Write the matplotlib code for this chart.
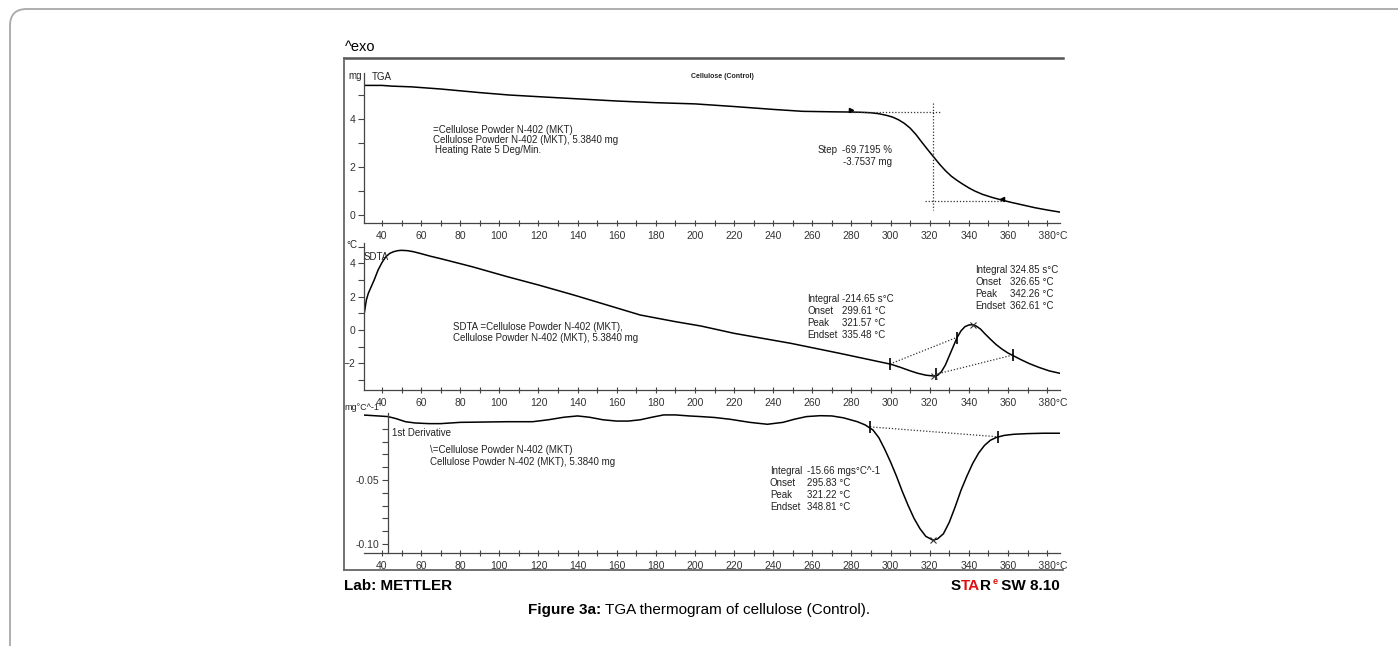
import matplotlib
matplotlib.use('Agg')
import matplotlib.pyplot as plt
from matplotlib.patches import FancyBboxPatch
from matplotlib.lines import Line2D
from matplotlib.ticker import FixedLocator, MultipleLocator

W, H = 1398, 646
NARROW = ['Liberation Sans Narrow', 'Liberation Sans', 'DejaVu Sans']
plt.rcParams['font.family'] = ['Liberation Sans', 'DejaVu Sans']

# x axis, deg C
x_ticks = list(range(40, 381, 20))
x_labels = [str(t) for t in x_ticks[:-1]] + ['    380°C']

# TGA, mg
tga_temp = [31, 40, 45, 55, 70, 90, 105, 120, 140, 160, 180, 200, 220, 240, 255, 270, 280,
            285, 290, 294, 298, 301, 304, 307, 310, 313, 316, 319, 322, 325, 328, 331, 334,
            337, 340, 343, 347, 352, 357, 362, 368, 374, 380, 386.6]
tga_mass = [5.40, 5.40, 5.37, 5.34, 5.25, 5.10, 5.00, 4.93, 4.84, 4.75, 4.68, 4.63, 4.52, 4.40,
            4.32, 4.30, 4.29, 4.28, 4.26, 4.22, 4.15, 4.08, 3.97, 3.82, 3.62, 3.35, 3.03, 2.72,
            2.42, 2.12, 1.85, 1.62, 1.44, 1.28, 1.13, 1.00, 0.86, 0.73, 0.62, 0.52, 0.41, 0.30,
            0.21, 0.12]
tga_step_upper = ([280, 325], [4.29, 4.29])
tga_step_vert = ([321.7, 321.7], [4.67, 0.21])
tga_step_lower = ([317.6, 357], [0.60, 0.60])

# SDTA, deg C
sdta_temp = [30.8, 31.2, 32, 33, 34.5, 36, 38, 40, 42, 44, 46, 48, 50, 53, 56, 60, 65, 70, 86,
             104, 120, 138, 155, 172, 190, 203, 220, 249, 274, 290, 300, 305, 310, 314, 318,
             322, 324, 326, 328, 330, 332, 334, 336, 338, 340, 342, 344, 346, 348, 351, 354,
             357, 360, 363, 367, 371, 376, 381, 386.6]
sdta_val = [0.9, 1.2, 1.8, 2.2, 2.6, 3.0, 3.6, 4.05, 4.4, 4.6, 4.7, 4.76, 4.78, 4.76, 4.70,
            4.58, 4.42, 4.28, 3.8, 3.2, 2.7, 2.1, 1.5, 0.9, 0.5, 0.24, -0.2, -0.8, -1.4, -1.8,
            -2.05, -2.24, -2.45, -2.6, -2.71, -2.76, -2.72, -2.5, -2.1, -1.55, -1.0, -0.45,
            -0.05, 0.2, 0.3, 0.32, 0.22, 0.05, -0.2, -0.55, -0.88, -1.15, -1.38, -1.56, -1.8,
            -2.02, -2.25, -2.45, -2.6]
sdta_base1 = ([299.7, 333.7], [-2.04, -0.45])
sdta_base2 = ([323, 362.6], [-2.66, -1.5])
sdta_limits = ([299.7, 323, 333.7, 362.6], [-2.04, -2.66, -0.45, -1.5])
sdta_peaks = ([322, 342.3], [-2.76, 0.32])

# 1st derivative, mg/deg C
dtg_temp = [29.6, 36, 43, 47, 52, 57, 64, 70, 80, 90, 104, 110, 117, 125, 133, 140, 146, 153,
            160, 166, 172, 178, 184, 190, 197, 203, 210, 218, 228, 237, 245, 251, 257, 264,
            270, 276, 283, 287, 291, 294, 297, 300, 303, 306, 309, 312, 315, 318, 321.7, 324,
            327, 330, 333, 336, 339, 342, 345, 348, 351, 354, 358, 363, 370, 378, 386.6]
dtg_val = [0.0008, 0.0002, -0.0005, -0.002, -0.0045, -0.0055, -0.006, -0.006, -0.005, -0.0048,
           -0.0045, -0.0045, -0.0045, -0.003, -0.001, 0.0, -0.001, -0.003, -0.004, -0.004,
           -0.003, -0.001, 0.0008, 0.0008, 0.0, -0.0005, -0.0012, -0.0026, -0.005, -0.0065,
           -0.005, -0.0025, -0.0005, 0.0002, 0.0, -0.0015, -0.0045, -0.007, -0.011, -0.017,
           -0.026, -0.036, -0.047, -0.059, -0.070, -0.080, -0.088, -0.094, -0.097, -0.096,
           -0.092, -0.083, -0.071, -0.058, -0.047, -0.037, -0.029, -0.023, -0.019, -0.0168,
           -0.0152, -0.0143, -0.0138, -0.0135, -0.0135]
dtg_base = ([289.5, 355], [-0.0085, -0.0163])
dtg_peak = ([321.7], [-0.097])

fig = plt.figure(figsize=(W / 100, H / 100), dpi=100)


def box(left, top, right, bottom):
    return [left / W, 1 - bottom / H, (right - left) / W, (bottom - top) / H]


def ftext(x, y, s, **kw):
    kw.setdefault('family', NARROW)
    kw.setdefault('fontsize', 7)
    kw.setdefault('color', '#222222')
    kw.setdefault('va', 'center')
    return fig.text(x / W, 1 - y / H, s, **kw)


def style(ax, ylim):
    ax.set_facecolor('none')
    ax.set_xlim(30.8, 386.6)
    ax.set_ylim(*ylim)
    for s in ['top', 'right']:
        ax.spines[s].set_visible(False)
    for s in ['left', 'bottom']:
        ax.spines[s].set_color('#444444')
        ax.spines[s].set_linewidth(0.9)
    ax.xaxis.set_major_locator(FixedLocator(x_ticks))
    ax.set_xticklabels(x_labels)
    ax.xaxis.set_minor_locator(MultipleLocator(10))
    ax.tick_params(axis='x', which='both', direction='inout', length=5, width=0.8,
                   colors='#444444', labelcolor='#333333', labelsize=7.5, pad=3)
    ax.tick_params(axis='y', which='both', direction='out', length=4, width=0.8,
                   colors='#444444', labelcolor='#333333', labelsize=7.5, pad=2)
    for lab in ax.get_xticklabels() + ax.get_yticklabels():
        lab.set_family(NARROW)


dot = dict(color='#333333', lw=0.9, ls=(0, (1, 1.5)))
curve = dict(color='black', lw=1.1, solid_joinstyle='round')

# TGA panel
ax1 = fig.add_axes(box(364, 73, 1060, 223))
style(ax1, (-0.333, 5.917))
ax1.set_yticks([0, 2, 4])
ax1.yaxis.set_minor_locator(FixedLocator([1, 3, 5]))
ax1.plot(tga_temp, tga_mass, **curve)
ax1.plot(*tga_step_upper, **dot)
ax1.plot(*tga_step_vert, **dot)
ax1.plot(*tga_step_lower, **dot)
ax1.plot([tga_step_upper[0][0]], [tga_step_upper[1][0] + 0.08], marker='>', ms=3, color='black')
ax1.plot([tga_step_lower[0][1]], [tga_step_lower[1][1] + 0.08], marker='<', ms=3, color='black')

# SDTA panel
ax2 = fig.add_axes(box(364, 243, 1060, 390))
style(ax2, (-3.6, 5.22))
ax2.set_yticks([-2, 0, 2, 4])
ax2.yaxis.set_minor_locator(FixedLocator([-3, -1, 1, 3, 5]))
ax2.plot(sdta_temp, sdta_val, **curve)
ax2.plot(*sdta_base1, **dot)
ax2.plot(*sdta_base2, **dot)
ax2.plot(*sdta_limits, ls='none', marker='|', ms=8, mew=1.2, color='black')
ax2.plot(*sdta_peaks, ls='none', marker='x', ms=5, mew=0.8, color='#333333')

# derivative panel
ax3 = fig.add_axes(box(364, 413, 1060, 553))
style(ax3, (-0.107, 0.0023))
ax3.spines['left'].set_position(('data', 43))
ax3.set_yticks([-0.05, -0.10])
ax3.set_yticklabels(['-0.05', '-0.10'])
for lab in ax3.get_yticklabels():
    lab.set_family(NARROW)
ax3.yaxis.set_minor_locator(FixedLocator([-0.01, -0.02, -0.03, -0.04, -0.06, -0.07, -0.08, -0.09]))
ax3.plot(dtg_temp, dtg_val, **curve)
ax3.plot(*dtg_base, **dot)
ax3.plot(*dtg_base, ls='none', marker='|', ms=8, mew=1.2, color='black')
ax3.plot(*dtg_peak, ls='none', marker='x', ms=5, mew=0.8, color='#333333')

# panel texts
ftext(348, 76, 'mg')
ftext(372, 77, 'TGA')
ftext(722, 77, 'Cellulose (Control)', fontsize=5, weight='bold', ha='center', family='Liberation Sans')
ftext(433, 130, '=Cellulose Powder N-402 (MKT)')
ftext(433, 140, 'Cellulose Powder N-402 (MKT), 5.3840 mg')
ftext(435, 150, 'Heating Rate 5 Deg/Min.')
ftext(818, 150, 'Step')
ftext(842, 150, '-69.7195 %')
ftext(843, 162, '-3.7537 mg')

ftext(346, 245, '°C')
ftext(364, 257, 'SDTA')
ftext(453, 327, 'SDTA =Cellulose Powder N-402 (MKT),')
ftext(453, 338, 'Cellulose Powder N-402 (MKT), 5.3840 mg')
for i, (k, v) in enumerate([('Integral', '-214.65 s°C'), ('Onset', '299.61 °C'),
                            ('Peak', '321.57 °C'), ('Endset', '335.48 °C')]):
    ftext(807, 299 + 12 * i, k)
    ftext(842, 299 + 12 * i, v)
for i, (k, v) in enumerate([('Integral', '324.85 s°C'), ('Onset', '326.65 °C'),
                            ('Peak', '342.26 °C'), ('Endset', '362.61 °C')]):
    ftext(975, 270 + 12 * i, k)
    ftext(1010, 270 + 12 * i, v)

ftext(344, 408, 'mg°C^-1', fontsize=6.5)
ftext(392, 433, '1st Derivative')
ftext(430, 450, '\\=Cellulose Powder N-402 (MKT)')
ftext(430, 462, 'Cellulose Powder N-402 (MKT), 5.3840 mg')
for i, (k, v) in enumerate([('Integral', '-15.66 mgs°C^-1'), ('Onset', '295.83 °C'),
                            ('Peak', '321.22 °C'), ('Endset', '348.81 °C')]):
    ftext(770, 471 + 12 * i, k)
    ftext(807, 471 + 12 * i, v)


# chart frame
def fline(xs, ys, **kw):
    fig.add_artist(Line2D([x / W for x in xs], [1 - y / H for y in ys],
                          transform=fig.transFigure, **kw))


fline([344, 1063], [58, 58], color='#555555', lw=1.8)
fline([344, 344], [58, 570], color='#666666', lw=1.3)
fline([344, 1063], [570, 570], color='#666666', lw=1.3)

ftext(345, 47, '^exo', fontsize=10.5, family='Liberation Sans', color='black')
ftext(344, 586, 'Lab: METTLER', fontsize=11, weight='bold', family='Liberation Sans', color='black')

# STARe SW 8.10 with coloured letters
star_parts = [('S', 'black'), ('TA', '#e01010'), ('R', 'black')]
t = ftext(1060, 586, ' SW 8.10', fontsize=11, weight='bold', ha='right',
          color='black', family='Liberation Sans')
fig.canvas.draw()
r = fig.canvas.get_renderer()
x_right = t.get_window_extent(r).x0
sup = fig.text(x_right / W, 1 - 581 / H, 'e', fontsize=6.5, weight='bold', ha='right',
               va='center', color='#e01010', family='Liberation Sans')
x_right = sup.get_window_extent(r).x0 - 1
for s, c in reversed(star_parts):
    tt = fig.text(x_right / W, 1 - 586 / H, s, fontsize=11, weight='bold', ha='right',
                  va='center', color=c, family='Liberation Sans')
    x_right = tt.get_window_extent(r).x0

# caption
cap1 = fig.text(0, 1 - 610 / H, 'Figure 3a:', fontsize=11, weight='bold', va='center',
                family='Liberation Sans')
cap2 = fig.text(0, 1 - 610 / H, ' TGA thermogram of cellulose (Control).', fontsize=11,
                va='center', family='Liberation Sans')
w1 = cap1.get_window_extent(r).width
w2 = cap2.get_window_extent(r).width
x0 = 699 - (w1 + w2) / 2
cap1.set_x(x0 / W)
cap2.set_x((x0 + w1) / W)

# outer rounded frame (only top-left corner visible)
frame = FancyBboxPatch((10 / W, -0.1), 1.2, 1 - 9 / H + 0.1,
                       boxstyle='round,pad=0,rounding_size=0.012', transform=fig.transFigure,
                       fill=False, edgecolor='#a8a8a8', lw=1.3, mutation_aspect=W / H)
fig.add_artist(frame)

fig.savefig('out.png', dpi=100)
